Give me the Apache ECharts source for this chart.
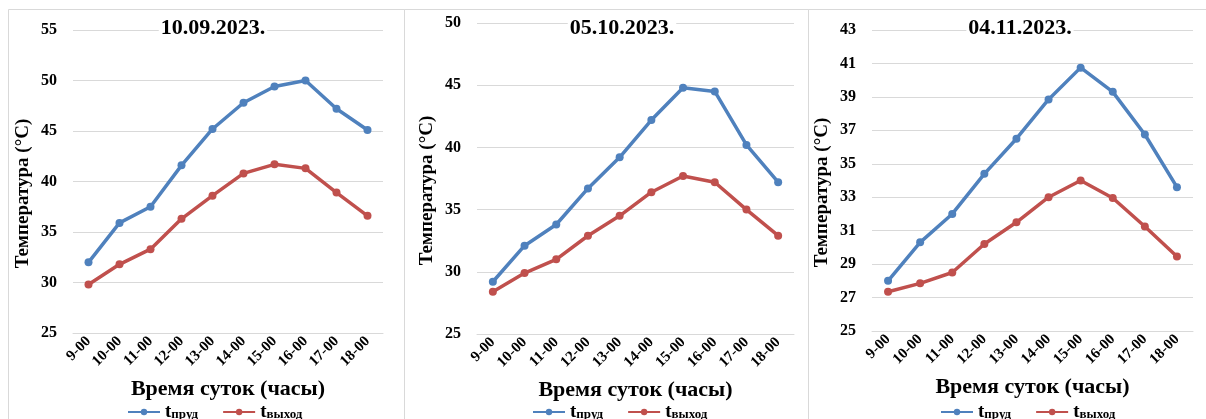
<!DOCTYPE html>
<html>
<head>
<meta charset="utf-8">
<script src="https://cdn.jsdelivr.net/npm/echarts@6/dist/echarts.min.js"></script>
<style>
  html, body { margin: 0; padding: 0; background: #fff; }
  #main { width: 1206px; height: 419px; }
</style>
</head>
<body>
<div id="main"></div>
<script>
// время суток
var hours = ['9-00', '10-00', '11-00', '12-00', '13-00', '14-00', '15-00', '16-00', '17-00', '18-00'];
var dates = ['10.09.2023.', '05.10.2023.', '04.11.2023.'];

// 10.09.2023
var pond1 = [32.0, 35.9, 37.5, 41.6, 45.2, 47.8, 49.4, 50.0, 47.2, 45.1];
var out1 = [29.8, 31.8, 33.3, 36.3, 38.6, 40.8, 41.7, 41.3, 38.9, 36.6];
// 05.10.2023
var pond2 = [29.2, 32.1, 33.8, 36.7, 39.2, 42.2, 44.8, 44.5, 40.2, 37.2];
var out2 = [28.4, 29.9, 31.0, 32.9, 34.5, 36.4, 37.7, 37.2, 35.0, 32.9];
// 04.11.2023
var pond3 = [28.0, 30.3, 32.0, 34.4, 36.5, 38.85, 40.75, 39.3, 36.75, 33.6];
var out3 = [27.35, 27.85, 28.5, 30.2, 31.5, 33.0, 34.0, 32.95, 31.25, 29.45];

var yMin = [25, 25, 25];
var yMax = [55, 50, 43];
var yStep = [5, 5, 2];

var FONT = '"Liberation Serif", "DejaVu Serif", serif';
var BLUE = '#4f81bd';
var RED = '#c0504d';

var grids = [
  { left: 73, width: 310, top: 30, height: 303 },
  { left: 477, width: 317, top: 23, height: 311 },
  { left: 872, width: 321, top: 30, height: 301 }
];
var titleX = [211, 620, 1018];
var legendX = [122, 527, 935];

var myChart = echarts.init(document.getElementById('main'));

var option = {
  backgroundColor: '#fff',
  animation: false,
  title: [],
  legend: [],
  grid: grids,
  xAxis: [],
  yAxis: [],
  series: [],
  graphic: [
    { type: 'rect', shape: { x: 8.5, y: 9.5, width: 396, height: 420 }, style: { fill: 'none', stroke: '#d9d9d9', lineWidth: 1 } },
    { type: 'rect', shape: { x: 404.5, y: 9.5, width: 404, height: 420 }, style: { fill: 'none', stroke: '#d9d9d9', lineWidth: 1 } },
    { type: 'rect', shape: { x: 808.5, y: 9.5, width: 410, height: 420 }, style: { fill: 'none', stroke: '#d9d9d9', lineWidth: 1 } }
  ]
};

var pondData = [pond1, pond2, pond3];
var outData = [out1, out2, out3];

for (var i = 0; i < 3; i++) {
  option.title.push({
    text: dates[i],
    left: titleX[i],
    top: 17,
    textAlign: 'center',
    backgroundColor: '#fff',
    padding: [0, 2],
    textStyle: { fontFamily: FONT, fontWeight: 'bold', fontSize: 22, color: '#000' }
  });
  option.legend.push({
    left: legendX[i],
    top: 395,
    itemWidth: 32,
    itemHeight: 8,
    itemGap: 24,
    selectedMode: false,
    data: ['tпруд', 'tвыход'],
    formatter: function (name) {
      return '{a|t}{b|' + name.slice(1) + '}';
    },
    textStyle: {
      fontFamily: FONT,
      fontWeight: 'bold',
      color: '#000',
      rich: {
        a: { fontFamily: FONT, fontWeight: 'bold', fontSize: 19, lineHeight: 18, verticalAlign: 'top' },
        b: { fontFamily: FONT, fontWeight: 'bold', fontSize: 13, lineHeight: 13, padding: [8, 0, 0, 0], verticalAlign: 'bottom' }
      }
    }
  });
  option.xAxis.push({
    type: 'category',
    gridIndex: i,
    data: hours,
    boundaryGap: true,
    name: 'Время суток (часы)',
    nameLocation: 'middle',
    nameGap: 45,
    nameTextStyle: { fontFamily: FONT, fontWeight: 'bold', fontSize: 22, color: '#000' },
    axisLine: { lineStyle: { color: '#d9d9d9' } },
    axisTick: { show: false },
    axisLabel: {
      interval: 0,
      rotate: 45,
      margin: 6,
      fontFamily: FONT,
      fontWeight: 'bold',
      fontSize: 15,
      color: '#000'
    }
  });
  option.yAxis.push({
    type: 'value',
    gridIndex: i,
    min: yMin[i],
    max: yMax[i],
    interval: yStep[i],
    name: 'Температура (°C)',
    nameLocation: 'middle',
    nameGap: 40,
    nameRotate: 90,
    nameTextStyle: { fontFamily: FONT, fontWeight: 'bold', fontSize: 19, color: '#000', padding: [0, 24, 0, 0] },
    axisLine: { show: false },
    axisTick: { show: false },
    splitLine: { lineStyle: { color: '#d9d9d9' } },
    axisLabel: {
      margin: 16,
      fontFamily: FONT,
      fontWeight: 'bold',
      fontSize: 16,
      color: '#000'
    }
  });
  option.series.push({
    name: 'tпруд',
    type: 'line',
    xAxisIndex: i,
    yAxisIndex: i,
    data: pondData[i],
    symbol: 'circle',
    symbolSize: 8,
    lineStyle: { width: 3.5, color: BLUE },
    itemStyle: { color: BLUE }
  });
  option.series.push({
    name: 'tвыход',
    type: 'line',
    xAxisIndex: i,
    yAxisIndex: i,
    data: outData[i],
    symbol: 'circle',
    symbolSize: 8,
    lineStyle: { width: 3.5, color: RED },
    itemStyle: { color: RED }
  });
}

myChart.setOption(option);
</script>
</body>
</html>
